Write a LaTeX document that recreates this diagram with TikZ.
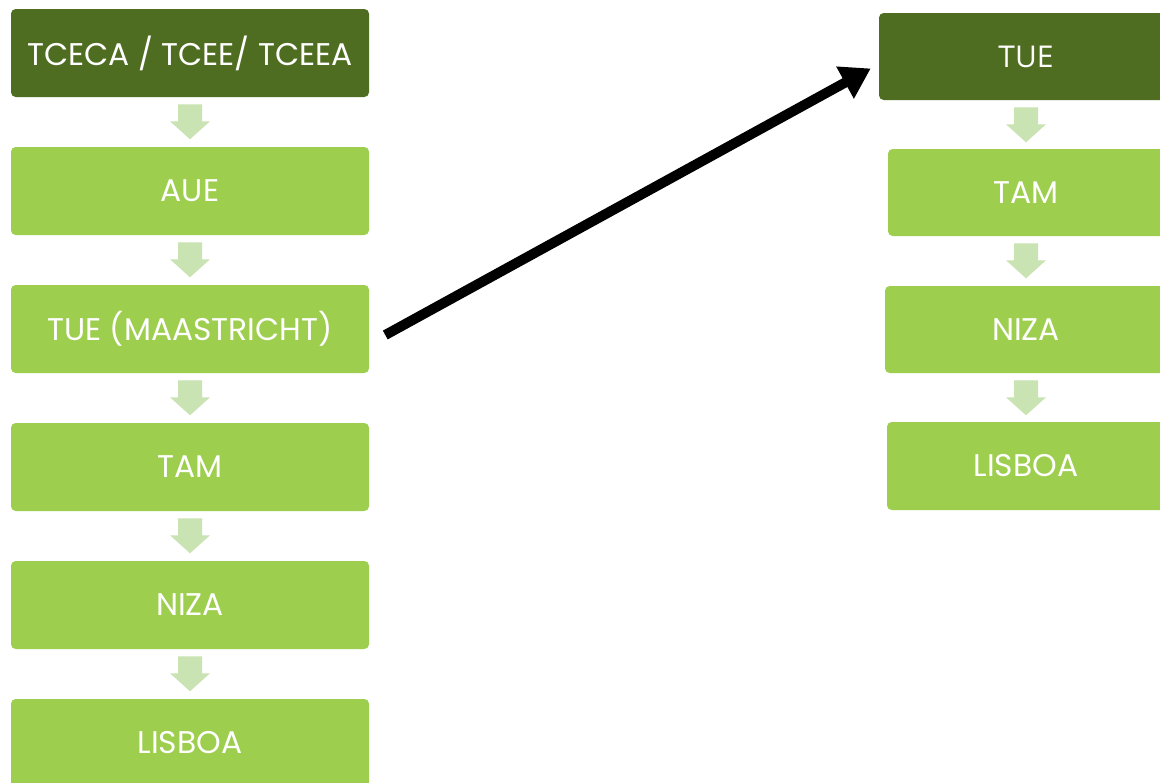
\documentclass[tikz,border=0pt]{standalone}
\usepackage{fontspec}
\setmainfont{Poppins}
\newfontfamily\tuefont{Open Sans}
\usetikzlibrary{arrows.meta,calc}
\definecolor{darkg}{HTML}{4F6D21}
\definecolor{lightg}{HTML}{9DCE4E}
\definecolor{paleg}{HTML}{C9E3B3}
\tikzset{
  box/.style={rounded corners=3.5pt, minimum height=66pt, text=white,
    font=\fontsize{23.5}{23.5}\selectfont, inner sep=0pt},
  darkbox/.style={box, fill=darkg},
  lightbox/.style={box, fill=lightg},
  bigarrow/.style={line width=7.5pt, -{Triangle[length=22pt,width=26pt]}},
}
\newcommand\fatdown[1]{\fill[paleg, shift={(#1)}] (-12,7) -- (12,7) -- (12,24) -- (20,24) -- (0,42) -- (-20,24) -- (-12,24) -- cycle;}
\begin{document}
\begin{tikzpicture}[x=0.75pt,y=-0.75pt]
\useasboundingbox (0,0) rectangle (1160,782);
\clip (0,0) rectangle (1160,782);
\fill[white] (0,0) rectangle (1160,782);
% left column
\node[darkbox, minimum width=268.5pt] (L1) at (190,53) {TCECA / TCEE/ TCEEA};
\node[lightbox, minimum width=268.5pt] (L2) at (190,191) {AUE};
\node[lightbox, minimum width=268.5pt] (L3) at (190,329) {TUE (MAASTRICHT)};
\node[lightbox, minimum width=268.5pt] (L4) at (190,467) {TAM};
\node[lightbox, minimum width=268.5pt] (L5) at (190,605) {NIZA};
\node[lightbox, minimum width=268.5pt] (L6) at (190,743) {LISBOA};
% right column
\node[darkbox, minimum width=220.5pt, minimum height=65.25pt, font=\tuefont\fontsize{22.5}{22.5}\selectfont] (R1) at (1026,56.5) {TUE};
\node[lightbox, minimum width=207pt, minimum height=65.25pt] (R2) at (1026,192.5) {TAM};
\node[lightbox, minimum width=211.5pt, minimum height=65.25pt] (R3) at (1026,329.5) {NIZA};
\node[lightbox, minimum width=208.5pt, minimum height=66pt] (R4) at (1026,466) {LISBOA};
% down arrows
\fatdown{L1.south}
\fatdown{L2.south}
\fatdown{L3.south}
\fatdown{L4.south}
\fatdown{L5.south}
\fatdown{R1.south}
\fatdown{R2.south}
\fatdown{R3.south}
% big arrow
\coordinate (s) at ($(L3.east)+(16,6)$);
\coordinate (t) at ($(R1.west)+(-8,12)$);
\draw[bigarrow] (s) -- (t);
\end{tikzpicture}
\end{document}
